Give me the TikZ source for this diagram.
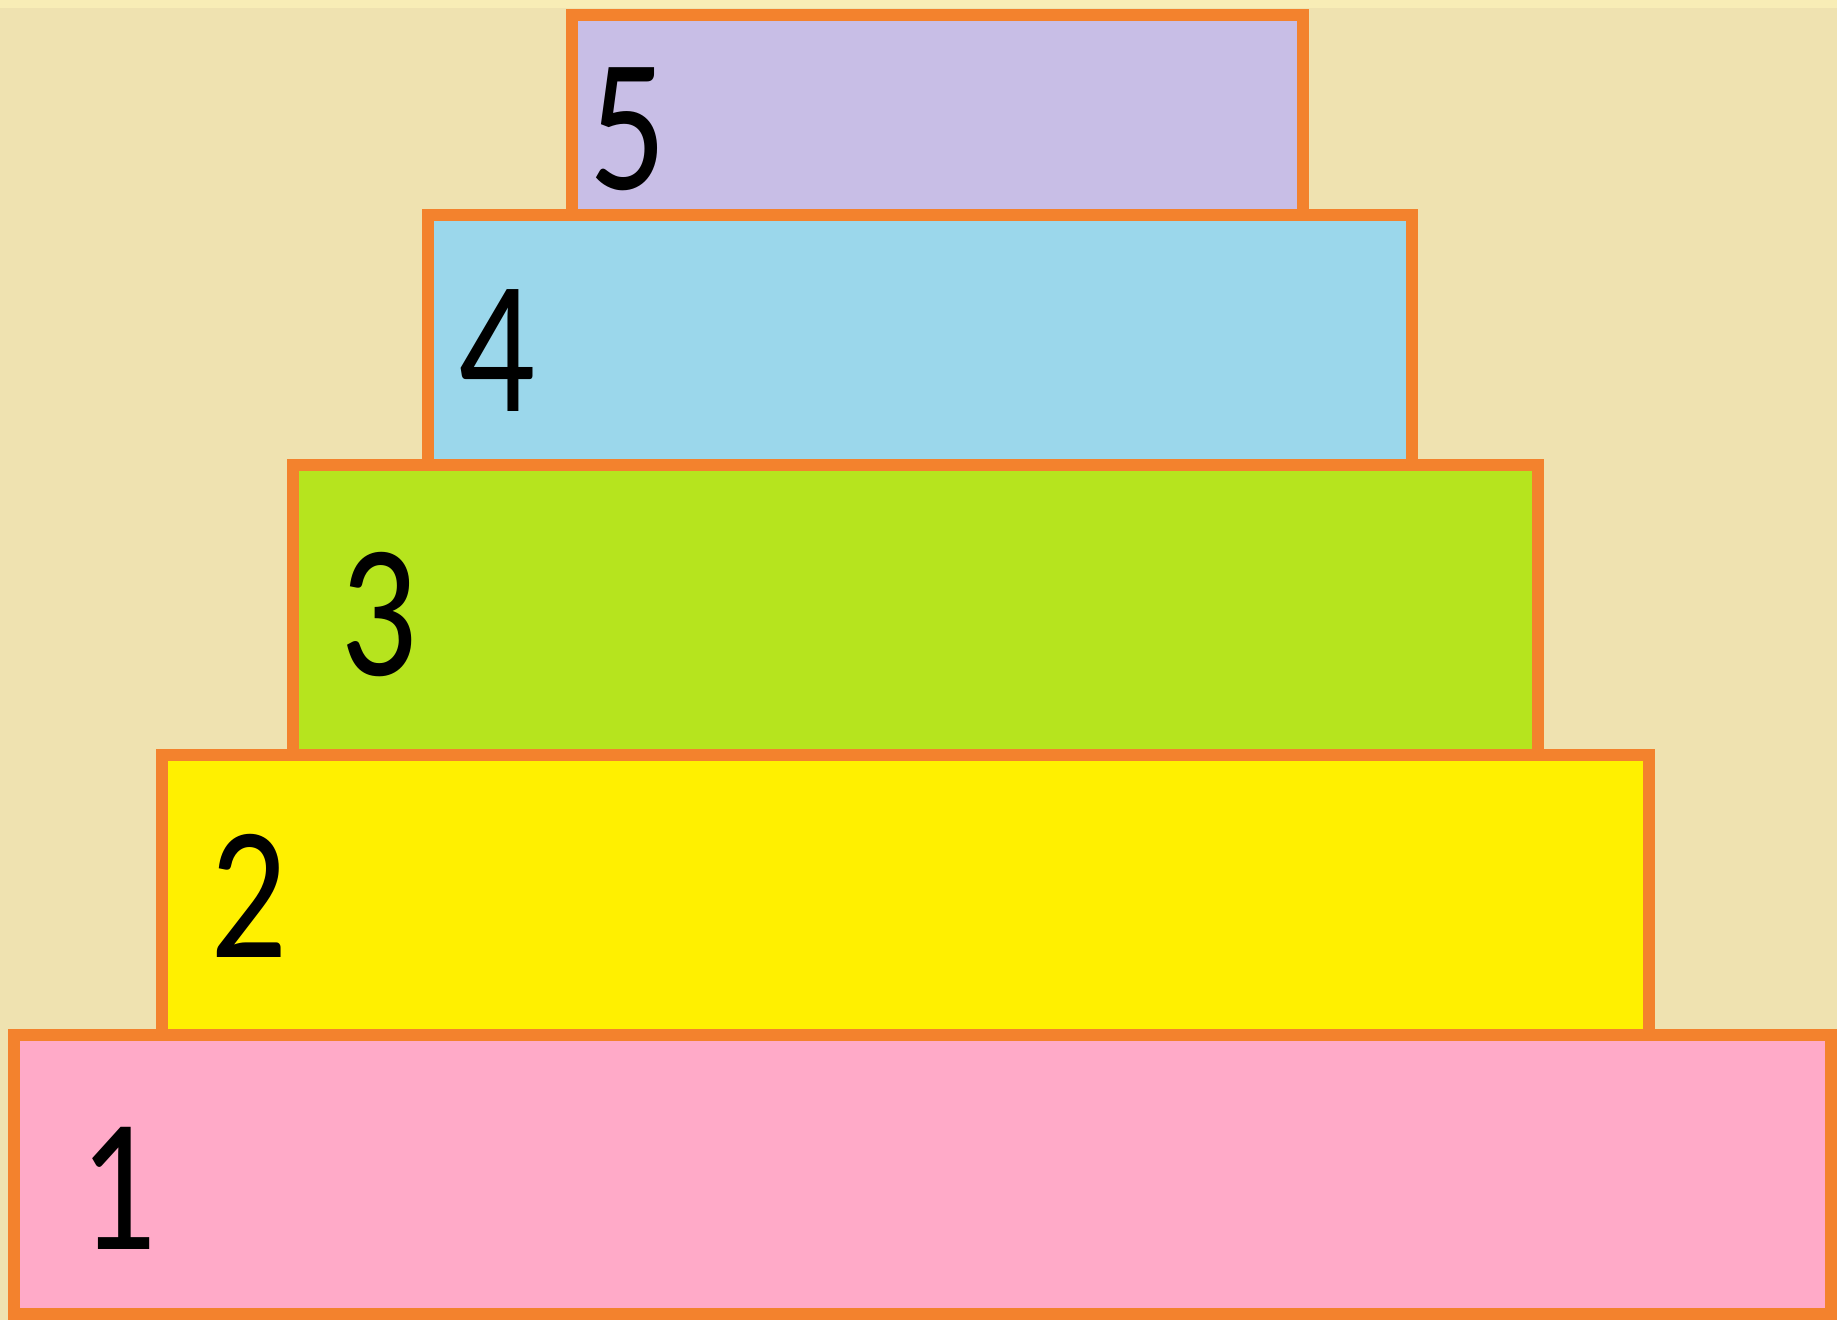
\documentclass[tikz,border=0pt]{standalone}
\usepackage{fontspec}
\setmainfont{Carlito}
\usetikzlibrary{positioning}

\definecolor{bgbeige}{HTML}{EFE2B0}
\definecolor{bgstrip}{HTML}{F8EDB6}
\definecolor{tierorange}{HTML}{F3822D}
\definecolor{tierpink}{HTML}{FFAAC8}
\definecolor{tieryellow}{HTML}{FFF000}
\definecolor{tiergreen}{HTML}{B6E41E}
\definecolor{tierblue}{HTML}{9BD7EB}
\definecolor{tierlilac}{HTML}{C8BEE6}

\tikzset{
  tier/.style={draw=tierorange, line width=0.125cm, rectangle, inner sep=0pt,
    outer sep=0pt, anchor=north west},
  num/.style={inner sep=0pt, xscale=0.8, font=\fontsize{54}{54}\selectfont}
}

\begin{document}
\begin{tikzpicture}[x=0.01cm, y=-0.01cm]
  % Background
  \fill[bgbeige] (0,0) rectangle (1837,1320);
  \fill[bgstrip] (0,0) rectangle (1837,8);
  \useasboundingbox (0,0) rectangle (1837,1320);

  % Tiers, bottom to top
  \foreach \n/\xa/\ya/\xb/\yb/\col/\lx/\ly in {
      1/14/1035/1831/1314/tierpink/118/1188,
      2/162/755/1649/1035/tieryellow/249/896,
      3/293/465/1538/755/tiergreen/379/615,
      4/428/215/1412/465/tierblue/497/351,
      5/572/15/1303/215/tierlilac/628/129} {
    \node[tier, fill=\col, minimum width={(\xb-\xa)*0.01cm},
      minimum height={(\yb-\ya)*0.01cm}] (tier\n) at (\xa,\ya) {};
    \node[num] (num\n) at (\lx,\ly) {\n};
  }
\end{tikzpicture}
\end{document}
